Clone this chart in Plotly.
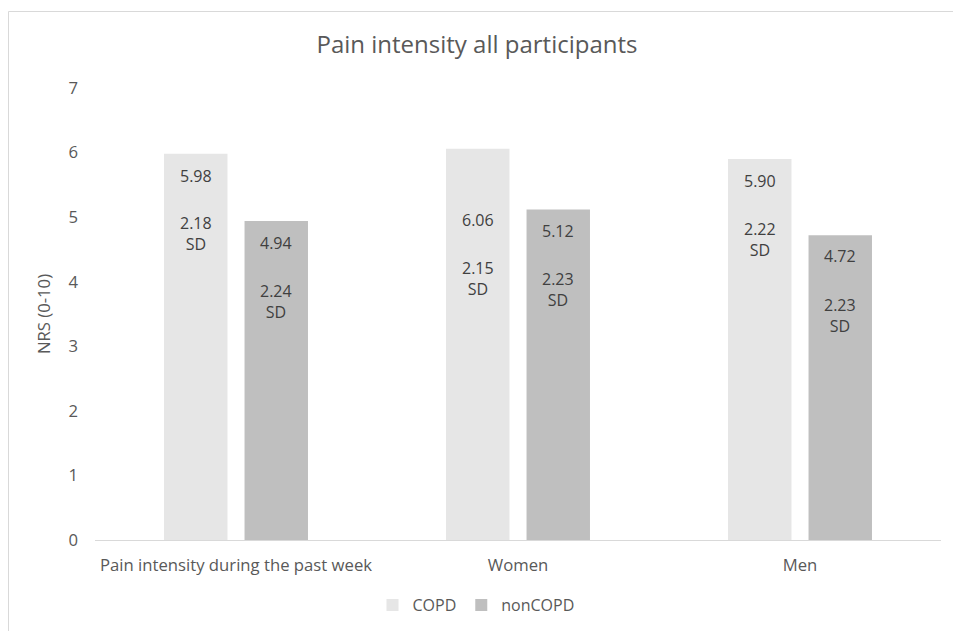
import plotly.graph_objects as go

categories = ["Pain intensity during the past week", "Women", "Men"]
copd_mean = [5.98, 6.06, 5.90]
copd_sd = [2.18, 2.15, 2.22]
noncopd_mean = [4.94, 5.12, 4.72]
noncopd_sd = [2.24, 2.23, 2.23]
y_ticks = [0, 1, 2, 3, 4, 5, 6, 7]

# label placement (pixels below bar top), styling only
copd_mean_drop = [22, 71, 22]
copd_sd_drop = [80, 130, 80]
non_mean_drop = [22, 22, 21]
non_sd_drop = [80, 80, 80]

BARGAP = 0.429
BARGROUPGAP = 0.212
FONT = "Open Sans"
LABEL_COLOR = "#404040"
TICK_COLOR = "#595959"
W, H = 953, 631
ML, MR, MT, MB = 95, 12, 88, 91

fig = go.Figure()
fig.add_trace(go.Bar(name="COPD", x=categories, y=copd_mean,
                     marker=dict(color="#e6e6e6", line=dict(width=0))))
fig.add_trace(go.Bar(name="nonCOPD", x=categories, y=noncopd_mean,
                     marker=dict(color="#bfbfbf", line=dict(width=0))))

half = (1 - BARGAP) / 4.0
annotations = []
for i in range(len(categories)):
    for sign, means, sds, mdrop, sdrop in (
        (-1, copd_mean, copd_sd, copd_mean_drop, copd_sd_drop),
        (1, noncopd_mean, noncopd_sd, non_mean_drop, non_sd_drop),
    ):
        annotations.append(dict(
            x=i + sign * half, y=means[i], xref="x", yref="y",
            text=f"{means[i]:.2f}", showarrow=False, yanchor="middle",
            yshift=-mdrop[i], font=dict(family=FONT, size=16, color=LABEL_COLOR)))
        annotations.append(dict(
            x=i + sign * half, y=means[i], xref="x", yref="y",
            text=f"{sds[i]:.2f}<br>SD", showarrow=False, yanchor="middle",
            yshift=-sdrop[i], font=dict(family=FONT, size=16, color=LABEL_COLOR)))

pw = W - ML - MR
ph = H - MT - MB
fig.update_layout(
    width=W, height=H,
    margin=dict(l=ML, r=MR, t=MT, b=MB, autoexpand=False),
    paper_bgcolor="white", plot_bgcolor="white",
    barmode="group", bargap=BARGAP, bargroupgap=BARGROUPGAP,
    title=dict(text="Pain intensity all participants", x=477 / W, xref="container",
               xanchor="center", y=1 - 45 / H, yref="container", yanchor="middle",
               font=dict(family=FONT, size=24, color=TICK_COLOR)),
    font=dict(family=FONT, size=16, color=TICK_COLOR),
    showlegend=True,
    legend=dict(orientation="h", x=476 / W, xref="container", xanchor="center",
                y=1 - 605 / H, yref="container", yanchor="middle",
                font=dict(family=FONT, size=16, color=TICK_COLOR),
                itemwidth=30, tracegroupgap=0),
    annotations=annotations,
    shapes=[dict(type="rect", xref="paper", yref="paper",
                 x0=(8.5 - ML) / pw, x1=(975 - ML) / pw,
                 y0=(H - MB - 660) / ph, y1=(H - MB - 11.5) / ph,
                 line=dict(color="#d9d9d9", width=1), layer="below")],
)
fig.update_xaxes(type="category", showline=True, linecolor="#d9d9d9", linewidth=1,
                 showgrid=False, ticks="", ticklabelstandoff=10, automargin=False,
                 tickfont=dict(family=FONT, size=16.7, color=TICK_COLOR))
fig.update_yaxes(range=[0, 7], tickvals=y_ticks, showgrid=False, zeroline=False,
                 showline=False, ticks="", ticklabelstandoff=16, automargin=False,
                 tickfont=dict(family=FONT, size=16.7, color=TICK_COLOR),
                 title=dict(text="NRS (0-10)", standoff=13,
                            font=dict(family=FONT, size=16.7, color=TICK_COLOR)))

fig.write_html("out.html", config={"displayModeBar": False},
               post_script="document.body.style.margin='0';")
